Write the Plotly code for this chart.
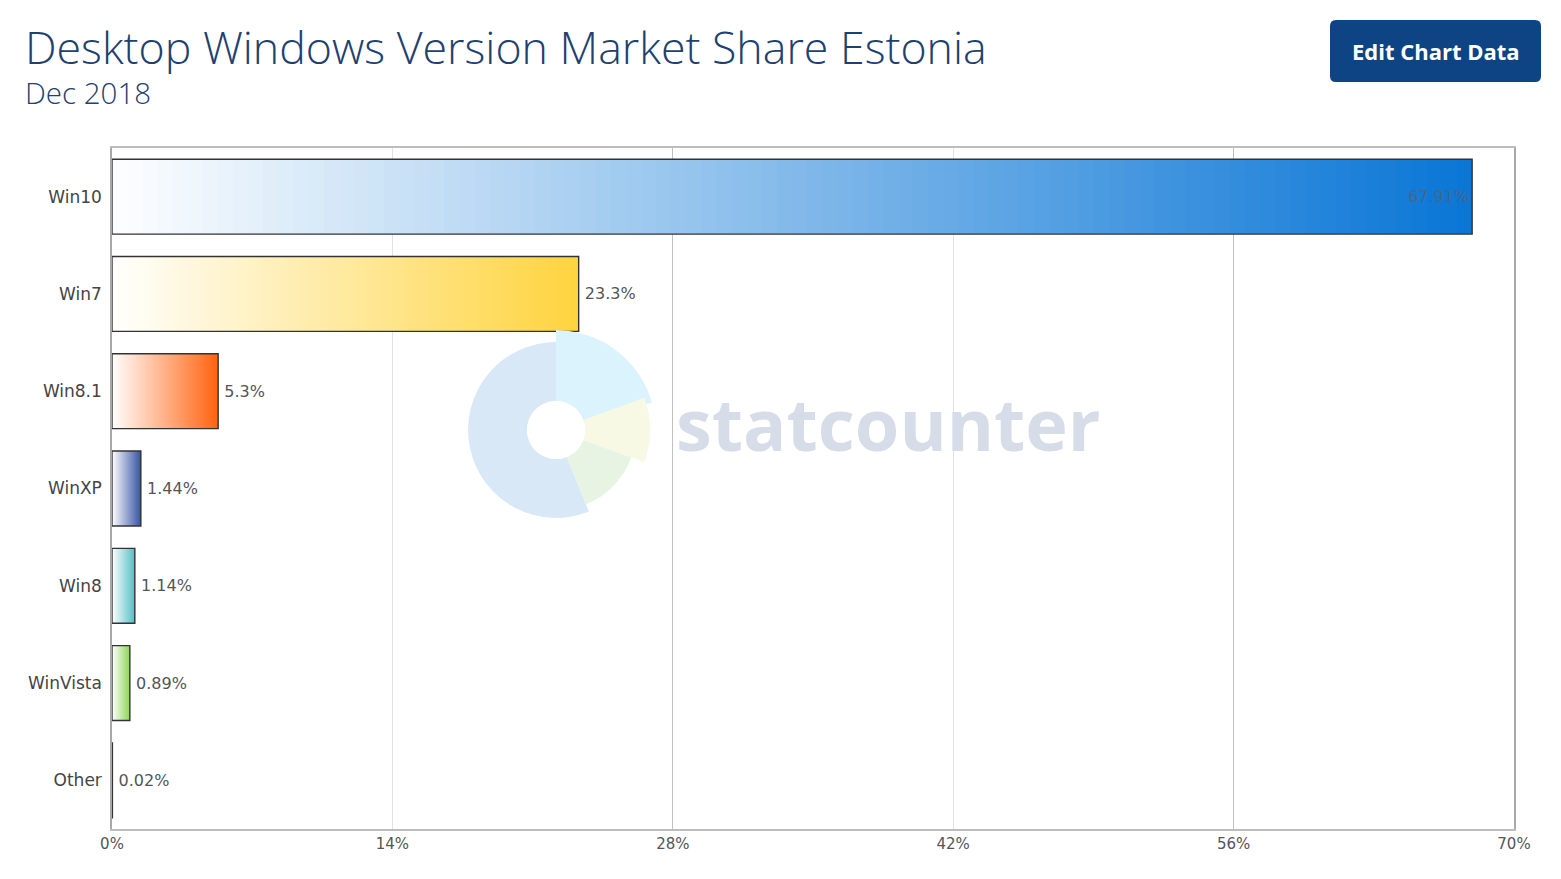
import plotly.graph_objects as go

# data
versions = ["Win10", "Win7", "Win8.1", "WinXP", "Win8", "WinVista", "Other"]
share = [67.91, 23.3, 5.3, 1.44, 1.14, 0.89, 0.02]
end_colors = ["#0a76d6", "#ffd43f", "#ff6410", "#3a55a5", "#55c0c4", "#8ed65a", "#333333"]
x_ticks = [0, 14, 28, 42, 56, 70]
strong_ticks = [28, 56]

# watermark logo pieces
logo_theta = [191, 53, 0, -44]
logo_width = [202, 74, 40, 48]
logo_r = [83, 100, 91.5, 72]
logo_colors = ["#d9e8f6", "#dbf3fd", "#f7f9e5", "#e7f4e3"]

OFF = 8  # page body margin
W, H = 1561 - OFF, 879 - OFF
L, R, T, B = 112, 1514, 148, 829  # plot area in screen pixels


def px(x):
    return (x - L) / (R - L)


def py(y):
    return (B - y) / (B - T)


def mix(c, t):
    c = c.lstrip("#")
    rgb = [int(c[i:i + 2], 16) for i in (0, 2, 4)]
    out = [round(255 + (v - 255) * t) for v in rgb]
    return "rgb({},{},{})".format(*out)


fig = go.Figure()

# fake gradient: overlaid bars, longest first
N = 90
for k in range(N):
    t = (N - k) / N
    fig.add_trace(go.Bar(
        y=versions, x=[v * t for v in share], orientation="h",
        marker=dict(color=[mix(c, t) for c in end_colors], line=dict(width=0)),
        hoverinfo="skip", showlegend=False))

# outline + labels
fig.add_trace(go.Bar(
    y=versions, x=share, orientation="h",
    marker=dict(color="rgba(0,0,0,0)", line=dict(color="#333333", width=1.4)),
    text=[f"{v}%" if i == 0 else f"\u2009{v}%" for i, v in enumerate(share)],
    textposition=["inside"] + ["outside"] * (len(share) - 1),
    insidetextanchor="end",
    insidetextfont=dict(color="#46668a", size=16, family="DejaVu Sans"),
    outsidetextfont=dict(color="#555555", size=16, family="DejaVu Sans"),
    constraintext="none", cliponaxis=False,
    hovertemplate="%{y}: %{x}%<extra></extra>", showlegend=False))

# invisible trace to carry the darker gridlines
fig.add_trace(go.Scatter(x=[0, 70], y=[versions[0], versions[0]], xaxis="x2",
                         mode="markers", marker=dict(opacity=0),
                         hoverinfo="skip", showlegend=False))

# watermark
fig.add_trace(go.Barpolar(theta=logo_theta, width=logo_width, r=logo_r,
                          marker=dict(color=logo_colors, line=dict(width=0)),
                          hoverinfo="skip", showlegend=False))

fig.update_layout(
    width=W, height=H,
    margin=dict(l=L - OFF, r=W - (R - OFF), t=T - OFF, b=H - (B - OFF)),
    paper_bgcolor="white", plot_bgcolor="white",
    barmode="overlay", bargap=0.23,
    font=dict(family="DejaVu Sans", color="#555555"),
    xaxis=dict(range=[0, 70], tickvals=x_ticks, ticktext=[f"{v}%" for v in x_ticks],
               gridcolor="#e2e2e2", showline=True, linecolor="#bdbdbd",
               linewidth=1.5, mirror=True, zeroline=False, ticks="",
               tickfont=dict(size=15, color="#555555")),
    xaxis2=dict(range=[0, 70], overlaying="x", tickvals=strong_ticks,
                gridcolor="#c0c0c0", showticklabels=False, zeroline=False),
    yaxis=dict(autorange="reversed", showline=True, linecolor="#a8a8a8",
               linewidth=1.5, mirror=True, ticks="", ticklabelstandoff=5,
               tickfont=dict(size=17, color="#444444"), showgrid=False),
    polar=dict(domain=dict(x=[px(456), px(656)], y=[py(530), py(330)]),
               hole=0.29, bgcolor="rgba(0,0,0,0)",
               radialaxis=dict(range=[0, 100], visible=False),
               angularaxis=dict(visible=False)),
    annotations=[
        dict(text="Desktop Windows Version Market Share Estonia", x=px(23), y=py(14),
             xref="paper", yref="paper", xanchor="left", yanchor="top", showarrow=False,
             font=dict(family="Open Sans", size=44.7, color="#1d4170", weight=300)),
        dict(text="Dec 2018", x=px(23), y=py(70),
             xref="paper", yref="paper", xanchor="left", yanchor="top", showarrow=False,
             font=dict(family="Open Sans", size=29.5, color="#1d4170", weight=300)),
        dict(text="<b>Edit Chart Data</b>", x=px(1435.5), y=py(51),
             xref="paper", yref="paper", xanchor="center", yanchor="middle", showarrow=False,
             font=dict(family="Open Sans", size=22, color="white")),
        dict(text="<b>statcounter</b>", x=px(888), y=py(423),
             xref="paper", yref="paper", xanchor="center", yanchor="middle", showarrow=False,
             font=dict(family="Open Sans", size=72, color="#d6dde8")),
    ],
)

# rounded button
x0, x1, y0, y1, rr = px(1330), px(1541), py(82), py(20), 6
rx, ry = rr / (R - L), rr / (B - T)
path = (f"M {x0 + rx},{y0} L {x1 - rx},{y0} Q {x1},{y0} {x1},{y0 + ry} "
        f"L {x1},{y1 - ry} Q {x1},{y1} {x1 - rx},{y1} L {x0 + rx},{y1} "
        f"Q {x0},{y1} {x0},{y1 - ry} L {x0},{y0 + ry} Q {x0},{y0} {x0 + rx},{y0} Z")
fig.add_shape(type="path", path=path, xref="paper", yref="paper",
              fillcolor="#0e4483", line=dict(width=0), layer="below")

fig.write_html("out.html")
